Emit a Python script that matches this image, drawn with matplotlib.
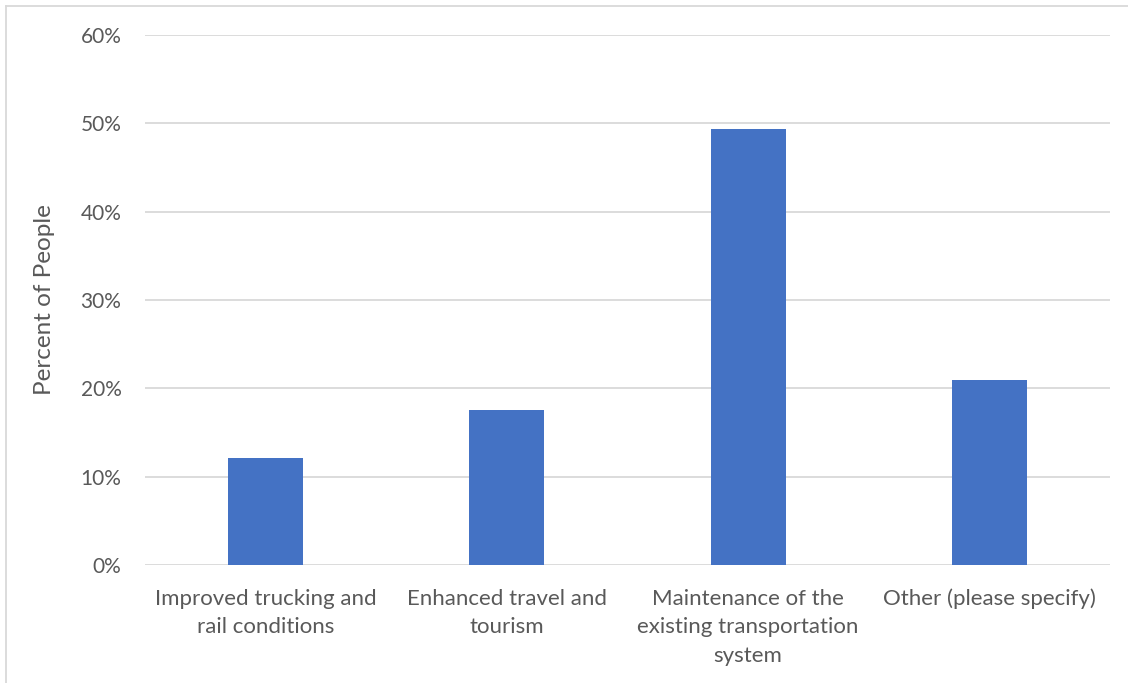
import matplotlib
matplotlib.use("Agg")
import matplotlib.pyplot as plt
from matplotlib.lines import Line2D
from matplotlib.ticker import FuncFormatter, MultipleLocator

categories = ["Improved trucking and\nrail conditions",
              "Enhanced travel and\ntourism",
              "Maintenance of the\nexisting transportation\nsystem",
              "Other (please specify)"]
values = [12.1, 17.55, 49.4, 20.9]

plt.rcParams['font.family'] = ['Lato', 'DejaVu Sans']
text_color = '#595959'
grid_color = '#d9d9d9'
bar_color = '#4472c4'

W, H = 1128, 683
fig = plt.figure(figsize=(W/100, H/100), dpi=100)
ax = fig.add_axes([145/W, 1-565/H, (1110-145)/W, (565-35)/H])

x = list(range(len(categories)))
ax.bar(x, values, width=0.31, color=bar_color, zorder=3)
ax.set_xlim(-0.5, len(categories)-0.5)
ax.set_ylim(0, 60)
ax.yaxis.set_major_locator(MultipleLocator(10))
ax.yaxis.set_major_formatter(FuncFormatter(lambda v, p: f"{v:.0f}%"))
ax.grid(axis='y', color=grid_color, linewidth=1.3, zorder=0)
ax.set_xticks(x)
ax.set_xticklabels(categories, fontsize=16, color=text_color, linespacing=1.55)
ax.tick_params(axis='y', length=0, labelsize=15, labelcolor=text_color, pad=17)
ax.tick_params(axis='x', length=0, labelcolor=text_color, pad=17)
for s in ax.spines.values():
    s.set_visible(False)
fig.text(45/W, 1-300/H, "Percent of People", rotation=90, fontsize=17.5,
         color=text_color, ha='center', va='center')

fig.add_artist(Line2D([5.5/W, 5.5/W], [0, 1-5.5/H], transform=fig.transFigure,
                      color=grid_color, linewidth=1.3))
fig.add_artist(Line2D([5.5/W, 1], [1-5.5/H, 1-5.5/H], transform=fig.transFigure,
                      color=grid_color, linewidth=1.3))
fig.savefig("out.png", dpi=100)
